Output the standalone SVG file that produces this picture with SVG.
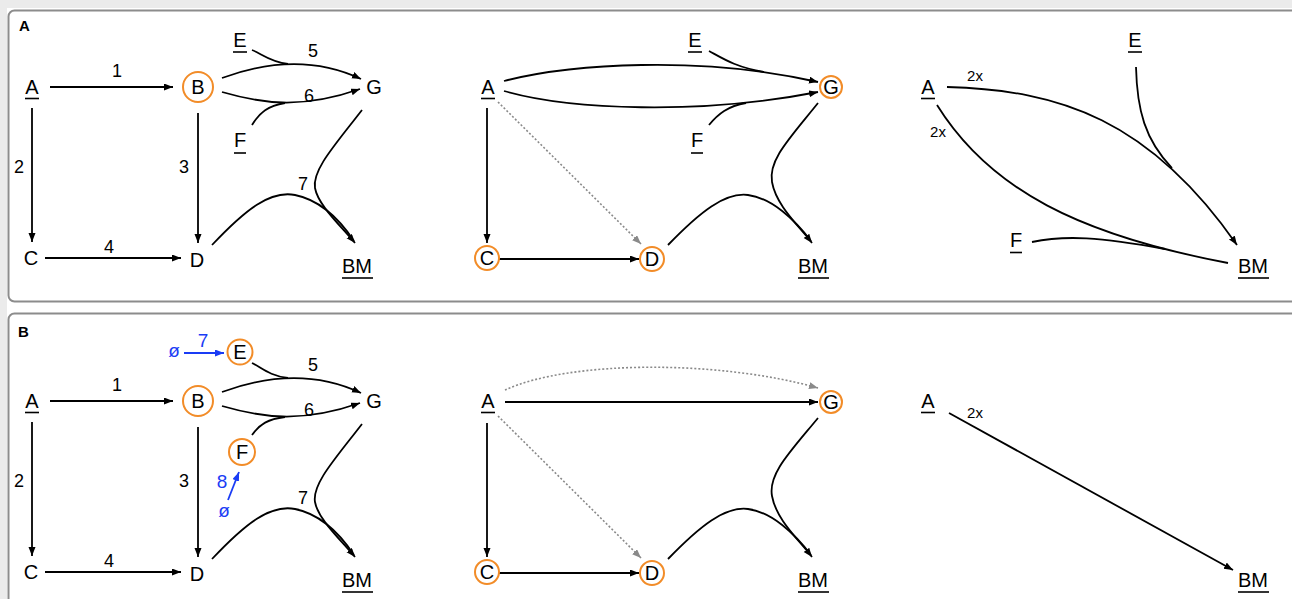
<svg xmlns="http://www.w3.org/2000/svg" width="1292" height="599" viewBox="0 0 1292 599">
<style>
text{font-family:"Liberation Sans",Arial,sans-serif;fill:#000}
.n{font-size:20px;text-anchor:middle}
.l{font-size:18px;text-anchor:middle}
.s{font-size:15px;text-anchor:middle}
.p{font-size:15px;font-weight:bold}
.bl{fill:#1a3cf5;font-size:19px;text-anchor:middle}
.e{fill:none;stroke:#000;stroke-width:1.8}
.d{fill:none;stroke:#8a8a8a;stroke-width:1.6;stroke-dasharray:2 2}
.b{fill:none;stroke:#1a3cf5;stroke-width:1.8}
.ul{stroke:#000;stroke-width:1.6}
.c{fill:none;stroke:#f28c28;stroke-width:2}
.panel{fill:#fff;stroke:#8c8c8c;stroke-width:2}
</style>
<defs>
<marker id="ah" markerUnits="userSpaceOnUse" markerWidth="10" markerHeight="8" refX="9" refY="3.5" orient="auto"><path d="M0,0 L9,3.5 L0,7 z" fill="#000"/></marker>
<marker id="ag" markerUnits="userSpaceOnUse" markerWidth="10" markerHeight="8" refX="9" refY="3.5" orient="auto"><path d="M0,0 L9,3.5 L0,7 z" fill="#8a8a8a"/></marker>
<marker id="ab" markerUnits="userSpaceOnUse" markerWidth="10" markerHeight="8" refX="9" refY="3.5" orient="auto"><path d="M0,0 L9,3.5 L0,7 z" fill="#1a3cf5"/></marker>
</defs>
<rect x="0" y="0" width="1292" height="599" fill="#fff"/>
<rect x="0" y="0" width="1292" height="8" fill="#ebebeb"/>
<rect x="0" y="0" width="7" height="599" fill="#ebebeb"/>
<rect class="panel" x="8.5" y="10.5" width="1300" height="291" rx="6"/>
<rect class="panel" x="8.5" y="313.5" width="1300" height="300" rx="6"/>
<text class="p" x="19" y="31">A</text>
<text class="p" x="18" y="337">B</text>

<!-- ================= PANEL A ================= -->
<g id="panelA">
<g id="connectorsA">
  <path class="e" d="M50,87 L173,87" marker-end="url(#ah)"/>
  <path class="e" d="M32,108 L32,242" marker-end="url(#ah)"/>
  <path class="e" d="M198,113 L198,243" marker-end="url(#ah)"/>
  <path class="e" d="M45,258 L181,258" marker-end="url(#ah)"/>
  <path class="e" d="M222,78 C260,64 310,55 361,79" marker-end="url(#ah)"/>
  <path class="e" d="M252,50 C262,54 270,62 288,64"/>
  <path class="e" d="M222,92 C260,103 300,110 360,89" marker-end="url(#ah)"/>
  <path class="e" d="M252,125 C260,112 268,106 285,103"/>
  <path class="e" d="M362,110 C335,145 312,170 315,188 C318,205 340,225 355,243" marker-end="url(#ah)"/>
  <path class="e" d="M212,245 C245,210 270,190 295,195 C320,200 340,220 354,241"/>
  <text class="l" x="117" y="77">1</text>
  <text class="l" x="19" y="173">2</text>
  <text class="l" x="184" y="173">3</text>
  <text class="l" x="109" y="253">4</text>
  <text class="l" x="313" y="57">5</text>
  <text class="l" x="309" y="102">6</text>
  <text class="l" x="303" y="190">7</text>

  <path class="e" d="M504,81 C570,64 700,55 818,82" marker-end="url(#ah)"/>
  <path class="e" d="M709,51 C722,58 735,67 764,72"/>
  <path class="e" d="M504,91 C570,110 700,115 818,92" marker-end="url(#ah)"/>
  <path class="e" d="M709,125 C718,114 728,106 746,103"/>
  <path class="e" d="M487,108 L487,243" marker-end="url(#ah)"/>
  <path class="e" d="M499,259 L639,259" marker-end="url(#ah)"/>
  <path class="d" d="M498,102 L641,244" marker-end="url(#ag)"/>
  <path class="e" d="M818,103 C790,138 768,160 772,182 C776,205 798,225 812,243" marker-end="url(#ah)"/>
  <path class="e" d="M668,245 C700,212 725,192 748,195 C772,198 795,220 811,241"/>

  <path class="e" d="M947,87 C1060,90 1150,120 1237,245" marker-end="url(#ah)"/>
  <path class="e" d="M1136,67 C1137,110 1145,140 1172,168"/>
  <path class="e" d="M937,105 C990,190 1080,235 1228,263"/>
  <path class="e" d="M1032,242 C1065,235 1100,237 1165,249"/>
  <text class="s" x="975" y="81">2x</text>
  <text class="s" x="938" y="137">2x</text>
</g>
<g id="A1-A"><text class="n" x="32" y="94">A</text><line class="ul" x1="25" y1="98.5" x2="39" y2="98.5"/></g>
<g id="A1-B"><circle class="c" cx="198" cy="87" r="15"/><text class="n" x="198" y="94">B</text></g>
<g id="A1-C"><text class="n" x="31" y="265">C</text></g>
<g id="A1-D"><text class="n" x="197" y="267">D</text></g>
<g id="A1-E"><text class="n" x="240" y="47">E</text><line class="ul" x1="233" y1="52" x2="247" y2="52"/></g>
<g id="A1-F"><text class="n" x="240" y="147">F</text><line class="ul" x1="234" y1="153" x2="246" y2="153"/></g>
<g id="A1-G"><text class="n" x="374" y="94">G</text></g>
<g id="A1-BM"><text class="n" x="357" y="273">BM</text><line class="ul" x1="342" y1="278" x2="373" y2="278"/></g>

<g id="A2-A"><text class="n" x="488" y="94">A</text><line class="ul" x1="481" y1="98.5" x2="495" y2="98.5"/></g>
<g id="A2-C"><circle class="c" cx="487" cy="258" r="12"/><text class="n" x="487" y="265">C</text></g>
<g id="A2-D"><circle class="c" cx="652" cy="259" r="12"/><text class="n" x="652" y="266">D</text></g>
<g id="A2-E"><text class="n" x="695" y="47">E</text><line class="ul" x1="688" y1="52" x2="702" y2="52"/></g>
<g id="A2-F"><text class="n" x="697" y="147">F</text><line class="ul" x1="691" y1="153" x2="703" y2="153"/></g>
<g id="A2-G"><circle class="c" cx="831" cy="87" r="11"/><text class="n" x="831" y="94">G</text></g>
<g id="A2-BM"><text class="n" x="813" y="273">BM</text><line class="ul" x1="798" y1="278" x2="829" y2="278"/></g>

<g id="A3-A"><text class="n" x="928" y="94">A</text><line class="ul" x1="921" y1="98.5" x2="935" y2="98.5"/></g>
<g id="A3-E"><text class="n" x="1135" y="47">E</text><line class="ul" x1="1128" y1="52" x2="1142" y2="52"/></g>
<g id="A3-F"><text class="n" x="1016" y="247">F</text><line class="ul" x1="1010" y1="252.5" x2="1022" y2="252.5"/></g>
<g id="A3-BM"><text class="n" x="1253" y="273">BM</text><line class="ul" x1="1238" y1="278" x2="1269" y2="278"/></g>
</g>

<!-- ================= PANEL B ================= -->
<g id="panelB" transform="translate(0,314)">
<g id="connectorsB">
  <path class="e" d="M50,87 L173,87" marker-end="url(#ah)"/>
  <path class="e" d="M32,108 L32,242" marker-end="url(#ah)"/>
  <path class="e" d="M198,113 L198,243" marker-end="url(#ah)"/>
  <path class="e" d="M45,258 L181,258" marker-end="url(#ah)"/>
  <path class="e" d="M222,78 C260,64 310,55 361,79" marker-end="url(#ah)"/>
  <path class="e" d="M252,49 C262,54 270,62 288,64"/>
  <path class="e" d="M222,92 C260,103 300,110 360,89" marker-end="url(#ah)"/>
  <path class="e" d="M252,121 C260,110 268,105 285,103"/>
  <path class="e" d="M362,110 C335,145 312,170 315,188 C318,205 340,225 355,243" marker-end="url(#ah)"/>
  <path class="e" d="M212,245 C245,210 270,190 295,195 C320,200 340,220 354,241"/>
  <path class="b" d="M184,39 L224,39" marker-end="url(#ab)"/>
  <path class="b" d="M228,186 L239,158" marker-end="url(#ab)"/>
  <text class="l" x="117" y="77">1</text>
  <text class="l" x="19" y="173">2</text>
  <text class="l" x="184" y="173">3</text>
  <text class="l" x="109" y="253">4</text>
  <text class="l" x="313" y="57">5</text>
  <text class="l" x="309" y="102">6</text>
  <text class="l" x="303" y="190">7</text>
  <text class="bl" x="203" y="33">7</text>
  <text class="bl" x="222" y="174">8</text>

  <path class="d" d="M505,76 C570,46 720,46 818,74" marker-end="url(#ag)"/>
  <path class="e" d="M505,88 L818,88" marker-end="url(#ah)"/>
  <path class="e" d="M487,109 L487,243" marker-end="url(#ah)"/>
  <path class="e" d="M499,259 L639,259" marker-end="url(#ah)"/>
  <path class="d" d="M498,102 L641,244" marker-end="url(#ag)"/>
  <path class="e" d="M818,104 C790,138 768,160 772,182 C776,205 798,225 812,243" marker-end="url(#ah)"/>
  <path class="e" d="M668,245 C700,212 725,192 748,195 C772,198 795,220 811,241"/>

  <path class="e" d="M949,99 L1233,256" marker-end="url(#ah)"/>
  <text class="s" x="975" y="104">2x</text>
</g>
<g id="B1-A"><text class="n" x="32" y="94">A</text><line class="ul" x1="25" y1="98.5" x2="39" y2="98.5"/></g>
<g id="B1-B"><circle class="c" cx="198" cy="87" r="15"/><text class="n" x="198" y="94">B</text></g>
<g id="B1-C"><text class="n" x="31" y="265">C</text></g>
<g id="B1-D"><text class="n" x="197" y="267">D</text></g>
<g id="B1-E"><circle class="c" cx="240" cy="38" r="12.5"/><text class="n" x="240" y="45">E</text></g>
<g id="B1-F"><circle class="c" cx="242" cy="138" r="13"/><text class="n" x="242" y="145">F</text></g>
<g id="B1-G"><text class="n" x="374" y="94">G</text></g>
<g id="B1-BM"><text class="n" x="357" y="273">BM</text><line class="ul" x1="342" y1="278" x2="373" y2="278"/></g>
<g id="B1-null1"><text class="bl" x="174" y="43">ø</text></g>
<g id="B1-null2"><text class="bl" x="224" y="203">ø</text></g>

<g id="B2-A"><text class="n" x="488" y="94">A</text><line class="ul" x1="481" y1="98.5" x2="495" y2="98.5"/></g>
<g id="B2-C"><circle class="c" cx="487" cy="258" r="12"/><text class="n" x="487" y="265">C</text></g>
<g id="B2-D"><circle class="c" cx="652" cy="259" r="12"/><text class="n" x="652" y="266">D</text></g>
<g id="B2-G"><circle class="c" cx="831" cy="88" r="11"/><text class="n" x="831" y="95">G</text></g>
<g id="B2-BM"><text class="n" x="813" y="273">BM</text><line class="ul" x1="798" y1="278" x2="829" y2="278"/></g>

<g id="B3-A"><text class="n" x="928" y="94">A</text><line class="ul" x1="921" y1="98.5" x2="935" y2="98.5"/></g>
<g id="B3-BM"><text class="n" x="1253" y="273">BM</text><line class="ul" x1="1238" y1="278" x2="1269" y2="278"/></g>
</g>
</svg>
